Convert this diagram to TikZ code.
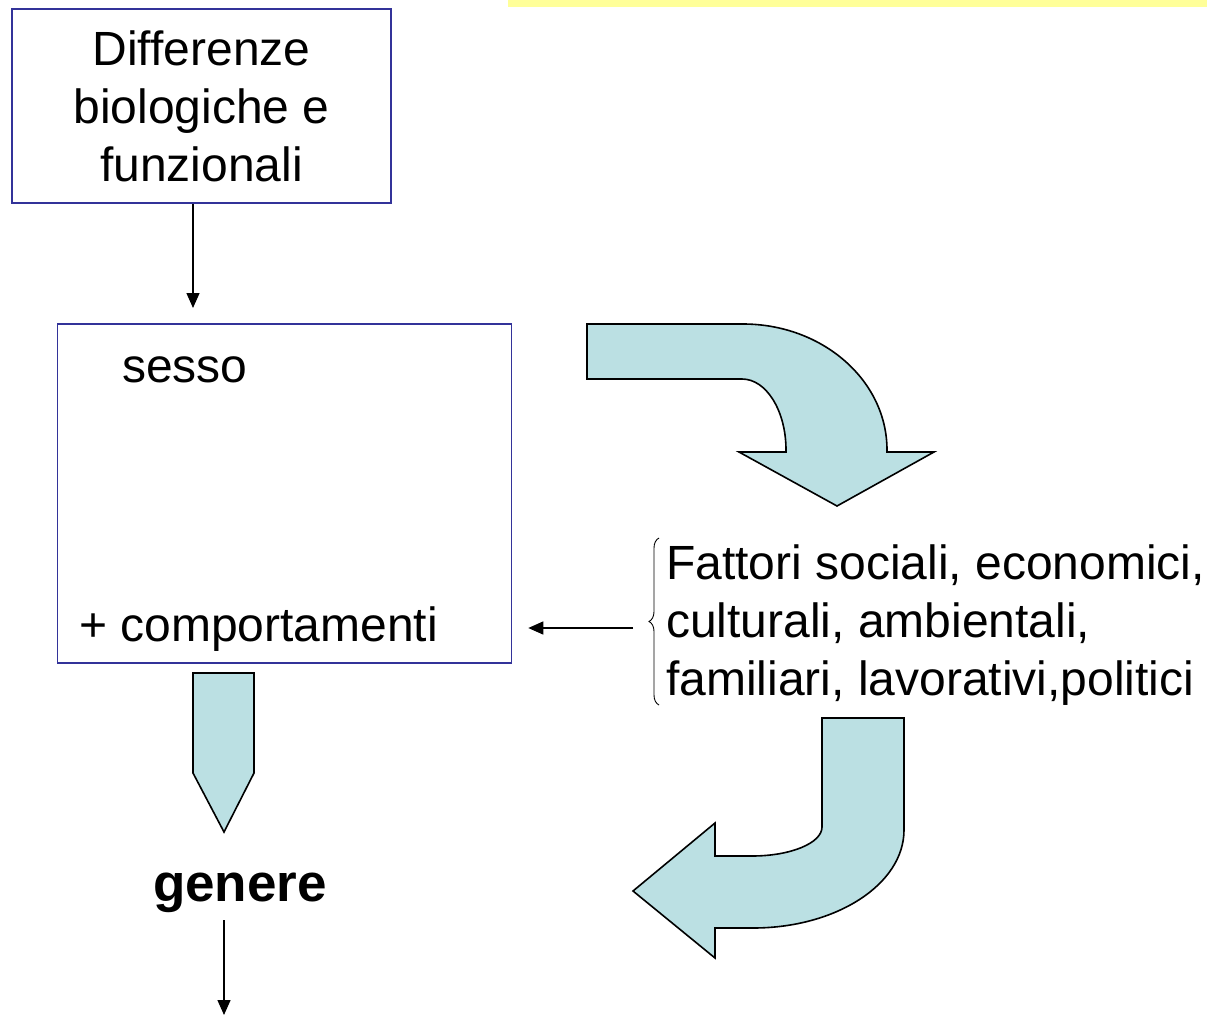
\documentclass[tikz,border=0pt]{standalone}
\usepackage{fontspec}
\setmainfont{Liberation Sans}
\usetikzlibrary{positioning,arrows.meta,calc,decorations.pathreplacing}
\definecolor{SXBlue}{HTML}{333399}
\definecolor{SXCyan}{HTML}{BBE0E3}
\definecolor{SXYellow}{HTML}{FFFF99}

\begin{document}
\begin{tikzpicture}[x=1pt,y=-1pt,
  box/.style={draw=SXBlue, line width=1.6pt, inner sep=0pt},
  lbl/.style={inner sep=0pt, font=\fontsize{48}{58}\selectfont},
  pointer/.style={-{Triangle[length=15pt,width=13pt]}, line width=1.4pt},
  bigarrow/.style={fill=SXCyan, draw=black, line width=1.6pt, line join=miter}]
\useasboundingbox (0,0) rectangle (1207,1018);
\fill[SXYellow] (508,0) rectangle (1207,7);
\node[box, lbl, align=center, minimum width=379pt, minimum height=194pt] (diff) at (201.5,106) {Differenze\\biologiche e\\funzionali};
\node[box, minimum width=454pt, minimum height=339pt] (frame) at (284.5,493.5) {};
\node[lbl, anchor=base west] (sesso) at (122,382) {sesso};
\node[lbl, anchor=base west] (compo) at (79,641) {+ comportamenti};
\node[lbl, align=left, anchor=west] (fattori) at (666,625) {Fattori sociali, economici,\\culturali, ambientali,\\familiari, lavorativi,politici};
\node[inner sep=0pt, font=\fontsize{53}{60}\selectfont\bfseries, anchor=base] (genere) at (240,901) {genere};
\draw[decorate, decoration={brace, amplitude=10pt}, line width=0.9pt] (659,705) -- (659,538);
\coordinate (diffend) at (193,308);
\draw[pointer] (diff.south -| diffend) -- (diffend);
\coordinate (fattstart) at (633,628);
\draw[pointer] (fattstart) -- ([xshift=16pt]frame.east |- fattstart);
\coordinate (genend) at (224,1015);
\draw[pointer] ([yshift=-8pt]genere.south -| genend) -- (genend);
\draw[bigarrow] (587,324) -- (743,324) arc[start angle=-90, end angle=0, x radius=144, y radius=126] -- (887,452) -- (934,452) -- (837,506) -- (739,452) -- (786,452) -- (786,450) arc[start angle=0, end angle=-90, x radius=44, y radius=71] -- (587,379) -- cycle;
\draw[bigarrow] (822,718) -- (904,718) -- (904,830) arc[start angle=0, end angle=90, x radius=151, y radius=98] -- (715,928) -- (715,958) -- (633,891) -- (715,823) -- (715,856) -- (752,856) arc[start angle=90, end angle=0, x radius=70, y radius=29] -- cycle;
\draw[bigarrow] (193,673) -- (254,673) -- (254,773) -- (224,832) -- (193,773) -- cycle;
\end{tikzpicture}
\end{document}
